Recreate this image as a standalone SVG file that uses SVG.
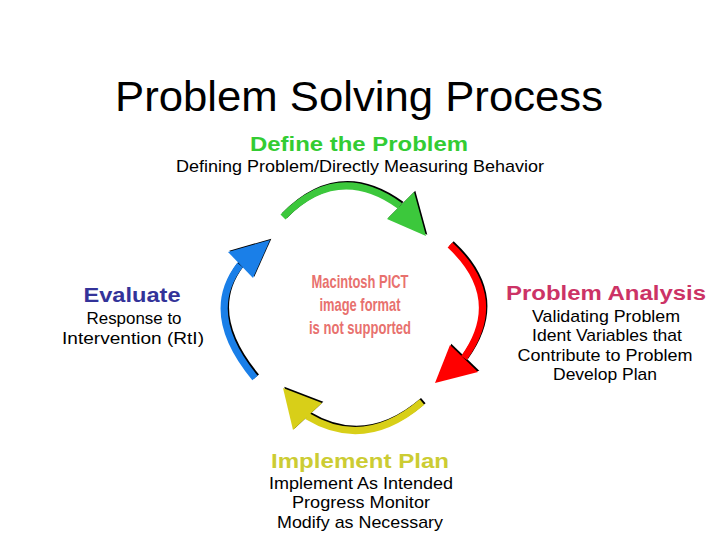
<svg xmlns="http://www.w3.org/2000/svg" width="720" height="540" viewBox="0 0 720 540">
<style>
text{font-family:"Liberation Sans",Arial,sans-serif;text-anchor:middle}
.h{font-weight:bold;font-size:20px}
.b{font-size:17px;fill:#000}
.arc{fill:none;stroke-width:7;stroke-linecap:butt}
.sh{stroke:#000}
.pict{font-weight:bold;font-size:19px;fill:#e8716e}
</style>
<rect width="720" height="540" fill="#fff"/>
<text x="359" y="111" font-size="42" fill="#000" textLength="488" lengthAdjust="spacingAndGlyphs">Problem Solving Process</text>
<g id="connectors">
  <g id="arrow-green">
    <g transform="translate(1.3,-1.3)"><path class="arc sh" d="M283,217 Q338,161 400,206"/><polygon points="414,192 426,236 387,219" fill="#000"/></g>
    <path class="arc" stroke="#3cc83c" d="M283,217 Q338,161 400,206"/>
    <polygon points="414,192 426,236 387,219" fill="#3cc83c"/>
  </g>
  <g id="arrow-red">
    <g transform="translate(1.3,-1.3)"><path class="arc sh" d="M450,245 Q507,298 464,358"/><polygon points="450,345 478,372 435,383" fill="#000"/></g>
    <path class="arc" stroke="#f00" d="M450,245 Q507,298 464,358"/>
    <polygon points="450,345 478,372 435,383" fill="#f00"/>
  </g>
  <g id="arrow-yellow">
    <g transform="translate(1.3,-1.3)"><path class="arc sh" d="M422,402 Q365,451 307,416"/><polygon points="283,388 322,403 293,430" fill="#000"/></g>
    <path class="arc" stroke="#d8cf18" d="M422,402 Q365,451 307,416"/>
    <polygon points="283,388 322,403 293,430" fill="#d8cf18"/>
  </g>
  <g id="arrow-blue">
    <g transform="translate(1.3,-1.3)"><path class="arc sh" d="M255,378 Q202,314 240,265"/><polygon points="228,252 270,240 253,278" fill="#000"/></g>
    <path class="arc" stroke="#1a7fe8" d="M255,378 Q202,314 240,265"/>
    <polygon points="228,252 270,240 253,278" fill="#1a7fe8"/>
  </g>
</g>
<g id="pict">
  <text class="pict" x="360" y="288" textLength="97" lengthAdjust="spacingAndGlyphs">Macintosh PICT</text>
  <text class="pict" x="360" y="311" textLength="81" lengthAdjust="spacingAndGlyphs">image format</text>
  <text class="pict" x="360" y="334" textLength="102" lengthAdjust="spacingAndGlyphs">is not supported</text>
</g>
<g id="define">
  <text class="h" x="359" y="151" fill="#33cc33" textLength="218" lengthAdjust="spacingAndGlyphs">Define the Problem</text>
  <text class="b" x="360" y="172" textLength="368" lengthAdjust="spacingAndGlyphs">Defining Problem/Directly Measuring Behavior</text>
</g>
<g id="analysis">
  <text class="h" x="606" y="300" fill="#cc3366" textLength="200" lengthAdjust="spacingAndGlyphs">Problem Analysis</text>
  <text class="b" x="606" y="322" textLength="148" lengthAdjust="spacingAndGlyphs">Validating Problem</text>
  <text class="b" x="607" y="341" textLength="150" lengthAdjust="spacingAndGlyphs">Ident Variables that</text>
  <text class="b" x="605" y="361" textLength="175" lengthAdjust="spacingAndGlyphs">Contribute to Problem</text>
  <text class="b" x="605" y="380" textLength="104" lengthAdjust="spacingAndGlyphs">Develop Plan</text>
</g>
<g id="implement">
  <text class="h" x="360" y="468" fill="#cccc33" textLength="178" lengthAdjust="spacingAndGlyphs">Implement Plan</text>
  <text class="b" x="361" y="489" textLength="184" lengthAdjust="spacingAndGlyphs">Implement As Intended</text>
  <text class="b" x="361" y="508" textLength="138" lengthAdjust="spacingAndGlyphs">Progress Monitor</text>
  <text class="b" x="360" y="528" textLength="166" lengthAdjust="spacingAndGlyphs">Modify as Necessary</text>
</g>
<g id="evaluate">
  <text class="h" x="132" y="302" fill="#333399" textLength="97" lengthAdjust="spacingAndGlyphs">Evaluate</text>
  <text class="b" x="134" y="324" textLength="95" lengthAdjust="spacingAndGlyphs">Response to</text>
  <text class="b" x="133" y="344" textLength="142" lengthAdjust="spacingAndGlyphs">Intervention (RtI)</text>
</g>
</svg>
